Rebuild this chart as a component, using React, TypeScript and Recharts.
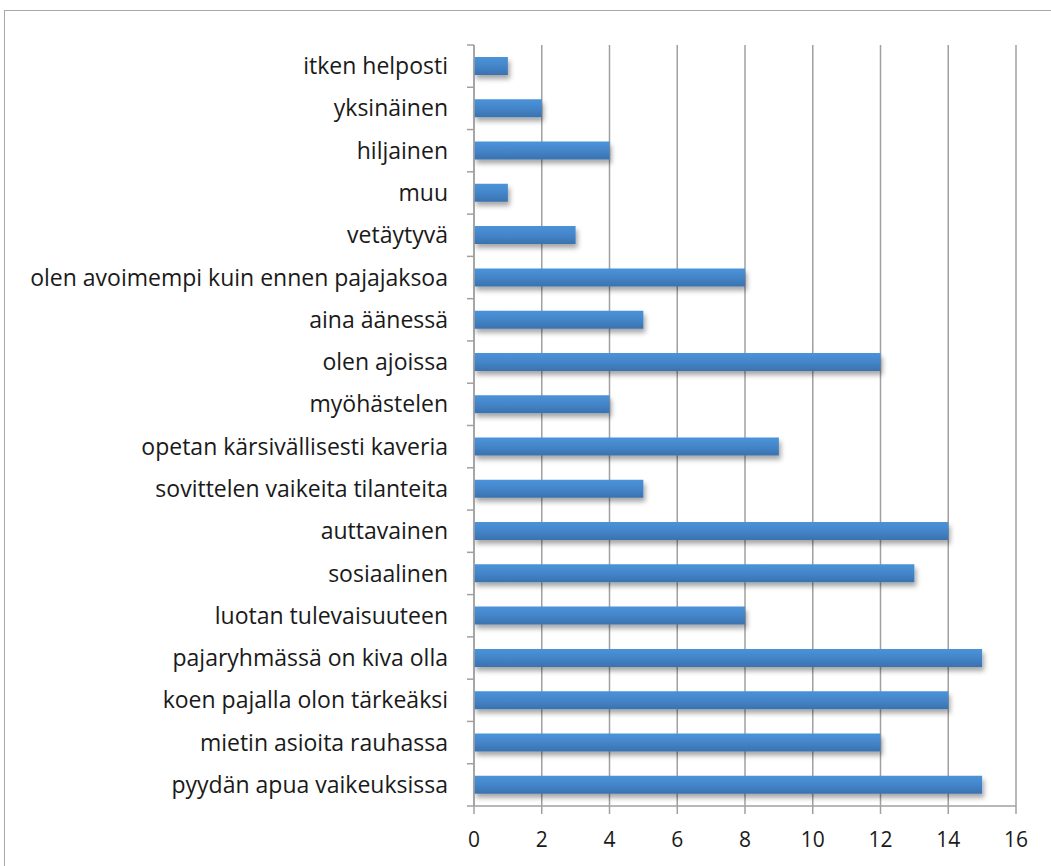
import React from "react";
import { BarChart, Bar, XAxis, YAxis, CartesianGrid } from "recharts";

const categories = [
  "itken helposti",
  "yksinäinen",
  "hiljainen",
  "muu",
  "vetäytyvä",
  "olen avoimempi kuin ennen pajajaksoa",
  "aina äänessä",
  "olen ajoissa",
  "myöhästelen",
  "opetan kärsivällisesti kaveria",
  "sovittelen vaikeita tilanteita",
  "auttavainen",
  "sosiaalinen",
  "luotan tulevaisuuteen",
  "pajaryhmässä on kiva olla",
  "koen pajalla olon tärkeäksi",
  "mietin asioita rauhassa",
  "pyydän apua vaikeuksissa",
];
const values = [1, 2, 4, 1, 3, 8, 5, 12, 4, 9, 5, 14, 13, 8, 15, 14, 12, 15];
const xTicks = [0, 2, 4, 6, 8, 10, 12, 14, 16];

const data = categories.map((name, i) => ({ name, value: values[i] }));

const W = 1051;
const H = 866;
const TOP = 45;
const XAXIS_H = 60;
const BAND = (H - TOP - XAXIS_H) / categories.length;
const FONT = "'Open Sans', sans-serif";
const GRID = "#a0a0a0";

const YTick = (props: any) => {
  const { x, y, payload, index } = props;
  const last = index === categories.length - 1;
  return (
    <g>
      <line x1={x - 7} x2={x} y1={y - BAND / 2} y2={y - BAND / 2} stroke={GRID} strokeWidth={1.5} />
      {last && (
        <line x1={x - 7} x2={x} y1={y + BAND / 2} y2={y + BAND / 2} stroke={GRID} strokeWidth={1.5} />
      )}
      <text x={x - 26} y={y} dy="0.35em" textAnchor="end" fill="#1a1a1a" fontSize={23} fontFamily={FONT}>
        {payload.value}
      </text>
    </g>
  );
};

export default function App() {
  return (
    <div style={{ position: "absolute", left: 0, top: 0, width: W, height: H, background: "#fff", overflow: "hidden" }}>
      <div
        style={{
          position: "absolute",
          left: 4,
          top: 10,
          width: 1100,
          height: 900,
          border: "1.5px solid #a8a8a8",
        }}
      />
      <div style={{ position: "absolute", left: 0, top: 0 }}>
        <BarChart
          width={W}
          height={H}
          data={data}
          layout="vertical"
          margin={{ top: TOP, right: 35, bottom: 0, left: 0 }}
          barSize={18}
        >
          <defs>
            <linearGradient id="barGrad" x1="0" y1="0" x2="0" y2="1">
              <stop offset="0%" stopColor="#4b93d9" />
              <stop offset="50%" stopColor="#4485c9" />
              <stop offset="100%" stopColor="#3a72ae" />
            </linearGradient>
            <filter id="shadow" x="-10%" y="-50%" width="130%" height="250%">
              <feDropShadow dx="2" dy="4" stdDeviation="2.5" floodColor="#000" floodOpacity="0.35" />
            </filter>
          </defs>
          <CartesianGrid horizontal={false} vertical={true} stroke={GRID} strokeWidth={1.5} />
          <XAxis
            type="number"
            domain={[0, 16]}
            ticks={xTicks}
            interval={0}
            height={XAXIS_H}
            tickSize={8}
            tickMargin={18}
            stroke={GRID}
            axisLine={{ stroke: GRID, strokeWidth: 1.5 }}
            tickLine={{ stroke: GRID, strokeWidth: 1.5 }}
            tick={{ fill: "#1a1a1a", fontSize: 21, fontFamily: FONT }}
          />
          <YAxis
            type="category"
            dataKey="name"
            width={474}
            interval={0}
            tickSize={0}
            tickMargin={0}
            tickLine={false}
            axisLine={{ stroke: GRID, strokeWidth: 1.5 }}
            tick={<YTick />}
          />
          <Bar dataKey="value" fill="url(#barGrad)" filter="url(#shadow)" isAnimationActive={false} />
        </BarChart>
      </div>
    </div>
  );
}
